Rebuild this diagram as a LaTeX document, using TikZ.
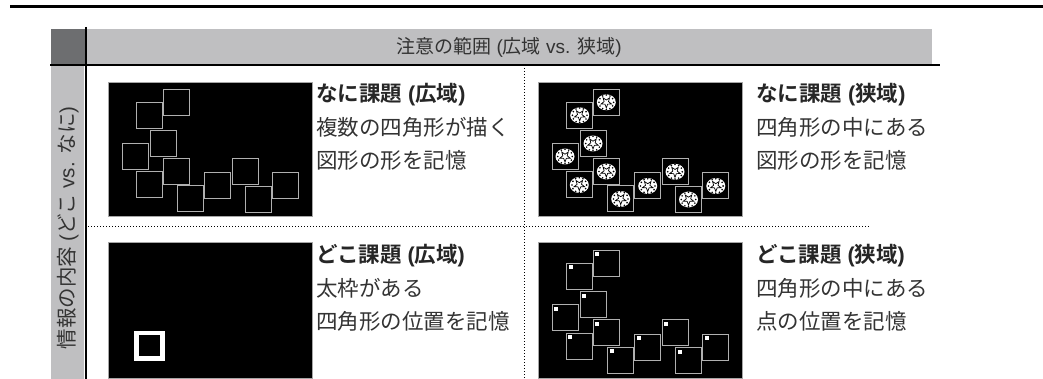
\documentclass[tikz,border=0pt]{standalone}
\usepackage{fontspec}
\newfontfamily\jp[BoldFont={Noto Sans CJK JP Bold}]{Noto Sans CJK JP}
\newfontfamily\lat{Liberation Sans}
\definecolor{hgray}{HTML}{BFBFC1}
\definecolor{dgray}{HTML}{6D6E70}
\definecolor{tgray}{HTML}{333333}
\definecolor{sqgray}{HTML}{B0B0B0}
\newcommand\lp{{\lat\ (}}
\newcommand\rp{{\lat )}}
\tikzset{
  panel/.style={fill=black, draw=gray!70, line width=0.6},
  sq/.style={draw=sqgray, line width=1},
  body/.style={font=\jp\fontsize{21.5}{24}\selectfont, text=tgray, anchor=west, inner sep=0},
  ttl/.style={font=\jp\bfseries\fontsize{21.5}{24}\selectfont, text=black!85, anchor=west, inner sep=0},
  hdr/.style={font=\jp\fontsize{19}{22}\selectfont, text=tgray, inner sep=0},
  dotline/.style={dotted, line width=1},
  staricon/.pic={
    \fill[white] (0,0) ellipse (9.5 and 8);
    \draw[black, line width=0.7] (90:5.5) -- (126:2.3) -- (162:5.5) -- (198:2.3) -- (234:5.5) -- (270:2.3) -- (306:5.5) -- (342:2.3) -- (18:5.5) -- (54:2.3) -- cycle;
    \foreach \a in {0,30,...,330} \fill[black] (\a:7.3) circle (0.9);
  }
}
\newcommand\sqlist{55.3/7.3, 28.7/20.3, 42/48.5, 14/61.5, 55.3/76.5, 28.3/90, 69.7/104, 96.7/91, 124/76.8, 137.5/104.5, 164.8/91}
\begin{document}
\begin{tikzpicture}[x=1pt,y=-1pt]
\useasboundingbox (0,0) rectangle (1043,379);
% top rule
\fill[black] (10,5) rectangle (1043,8);
% header
\fill[hgray] (86,29) rectangle (932,64);
\fill[dgray] (51,29) rectangle (85,64);
\fill[hgray] (51,66) rectangle (84,379);
\draw[line width=1.5] (50,65) -- (940,65);
\draw[line width=1.5] (86,27) -- (86,379);
\draw[dotline] (88,227) -- (870,227);
\draw[dotline] (524,68) -- (524,379);
\node[hdr] (header) at (509,47) {注意の範囲\lp 広域{\lat\ vs. }狭域\rp};
\node[hdr, font=\jp\fontsize{20.5}{23}\selectfont, rotate=90] (side) at (68,228) {情報の内容\lp どこ{\lat\ vs. }なに\rp};
% panel 1
\fill[panel] (108,82) rectangle (312,216);
\begin{scope}[shift={(108,82)}]
  \foreach \px/\py in \sqlist { \draw[sq] (\px,\py) rectangle ++(26,26); }
\end{scope}
% panel 2
\fill[panel] (538,82) rectangle (742,216);
\begin{scope}[shift={(538,82)}]
  \foreach \px/\py in \sqlist {
    \draw[sq] (\px,\py) rectangle ++(26,26);
    \pic at (\px+13,\py+13) {staricon};
  }
\end{scope}
% panel 3
\fill[panel] (108,242) rectangle (312,378);
\draw[white, line width=4.5] (136.5,332.8) rectangle (162.3,358.6);
% panel 4
\fill[panel] (538,242) rectangle (742,378);
\begin{scope}[shift={(538,243)}]
  \foreach \px/\py in \sqlist {
    \draw[sq] (\px,\py) rectangle ++(26,26);
    \fill[white] (\px+2,\py+2) rectangle ++(4,4);
  }
\end{scope}
% texts
\node[ttl] (t1) at (316,95) {なに課題\lp 広域\rp};
\node[body] (b1a) at (316,127.5) {複数の四角形が描く};
\node[body] (b1b) at (316,160) {図形の形を記憶};
\node[ttl] (t2) at (756,95) {なに課題\lp 狭域\rp};
\node[body] (b2a) at (756,127.5) {四角形の中にある};
\node[body] (b2b) at (756,160) {図形の形を記憶};
\node[ttl] (t3) at (316,255.5) {どこ課題\lp 広域\rp};
\node[body] (b3a) at (316,288) {太枠がある};
\node[body] (b3b) at (316,321) {四角形の位置を記憶};
\node[ttl] (t4) at (756,255.5) {どこ課題\lp 狭域\rp};
\node[body] (b4a) at (756,288) {四角形の中にある};
\node[body] (b4b) at (756,321) {点の位置を記憶};
\end{tikzpicture}
\end{document}
